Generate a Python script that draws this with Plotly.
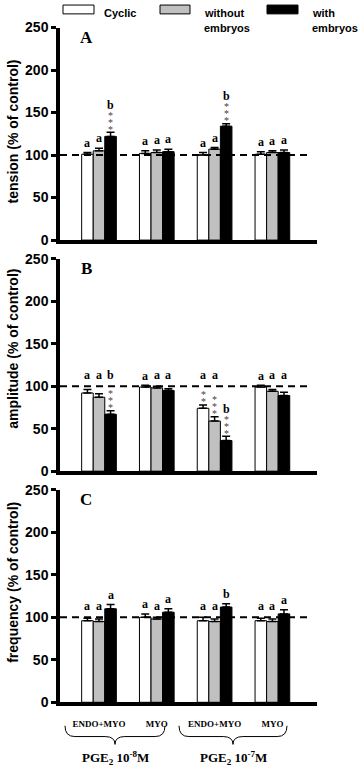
import plotly.graph_objects as go

# ---------------- data ----------------
groups = ["ENDO+MYO", "MYO", "ENDO+MYO", "MYO"]
series_names = ["Cyclic", "without embryos", "with embryos"]
dose_labels = ["PGE<sub>2</sub> 10<sup>-8</sup>M", "PGE<sub>2</sub> 10<sup>-7</sup>M"]
panel_letters = ["A", "B", "C"]
y_titles = ["tension (% of control)", "amplitude (% of control)", "frequency (% of control)"]
y_ticks = [0, 50, 100, 150, 200, 250]

tension_cyclic = [101, 102, 100, 101]
tension_without = [105, 103, 107, 103]
tension_with = [122, 104, 134, 103]
tension_err_cyclic = [2, 3, 3, 3]
tension_err_without = [3, 3, 2, 2]
tension_err_with = [5, 3, 3, 3]

amplitude_cyclic = [92, 99, 74, 99]
amplitude_without = [87, 98, 59, 94]
amplitude_with = [67, 95, 36, 89]
amplitude_err_cyclic = [4, 2, 4, 2]
amplitude_err_without = [4, 2, 5, 2]
amplitude_err_with = [4, 2, 5, 4]

frequency_cyclic = [96, 100, 96, 96]
frequency_without = [95, 98, 95, 95]
frequency_with = [110, 106, 112, 104]
frequency_err_cyclic = [3, 4, 4, 3]
frequency_err_without = [3, 2, 3, 3]
frequency_err_with = [5, 4, 4, 5]

tension_letters = [["a", "a", "a", "a"], ["a", "a", "a", "a"], ["b", "a", "b", "a"]]
tension_stars = [[0, 0, 0, 0], [0, 0, 0, 0], [3, 0, 3, 0]]
amplitude_letters = [["a", "a", "a", "a"], ["a", "a", "a", "a"], ["b", "a", "b", "a"]]
amplitude_stars = [[0, 0, 2, 0], [0, 0, 3, 0], [3, 0, 3, 0]]
frequency_letters = [["a", "a", "a", "a"], ["a", "a", "a", "a"], ["a", "a", "b", "a"]]
frequency_stars = [[0, 0, 0, 0], [0, 0, 0, 0], [0, 0, 0, 0]]
control_level = 100

# ---------------- layout helpers ----------------
W, H = 359, 771
colors = ["#ffffff", "#c0c0c0", "#000000"]
panels = [
    dict(vals=[tension_cyclic, tension_without, tension_with],
         errs=[tension_err_cyclic, tension_err_without, tension_err_with],
         letters=tension_letters, stars=tension_stars, top=20, bot=237, title_c=126),
    dict(vals=[amplitude_cyclic, amplitude_without, amplitude_with],
         errs=[amplitude_err_cyclic, amplitude_err_without, amplitude_err_with],
         letters=amplitude_letters, stars=amplitude_stars, top=256, bot=473, title_c=348),
    dict(vals=[frequency_cyclic, frequency_without, frequency_with],
         errs=[frequency_err_cyclic, frequency_err_without, frequency_err_with],
         letters=frequency_letters, stars=frequency_stars, top=492, bot=709, title_c=587),
]

xpos = list(range(len(groups)))
x_left_px, x_right_px = 60, 317
g0_px, gstep_px = 99, 57.8
xrange_ = [(x_left_px - g0_px) / gstep_px, (x_right_px - g0_px) / gstep_px]
dash_end = (312 - g0_px) / gstep_px


def px2x(px):
    return (px - g0_px) / gstep_px


def py(px):
    return 1 - px / H


fig = go.Figure()
annotations = []
shapes = []
bar_w = 0.2
offsets = [-bar_w, 0, bar_w]

for pi, p in enumerate(panels):
    sfx = "" if pi == 0 else str(pi + 1)
    xa, ya = "x" + sfx, "y" + sfx
    ppu = (p["bot"] - p["top"]) / 250.0  # px per unit
    for si in range(3):
        fig.add_trace(go.Bar(
            x=xpos, y=p["vals"][si], xaxis=xa, yaxis=ya,
            name=series_names[si], offsetgroup=str(si), showlegend=False,
            marker=dict(color=colors[si], line=dict(color="black", width=1)),
            error_y=dict(type="data", symmetric=False, array=p["errs"][si],
                         arrayminus=[0] * len(groups), color="black",
                         thickness=1.5, width=4),
        ))
        for gi in range(len(groups)):
            base = p["vals"][si][gi] + p["errs"][si][gi]
            xc = gi + offsets[si]
            n = p["stars"][si][gi]
            for k in range(n):
                annotations.append(dict(
                    x=xc, y=base, xref=xa, yref=ya, text="*", showarrow=False,
                    yshift=3 + 7 * k, yanchor="middle",
                    font=dict(family="Liberation Serif", size=10, color="#444")))
            off = (5 + 7 * (n - 1) + 9) if n > 0 else 10
            lc = base + off / ppu
            if 92 < lc < 112:
                lc = 113
            annotations.append(dict(
                x=xc, y=lc, xref=xa, yref=ya, text=p["letters"][si][gi],
                showarrow=False, yanchor="middle",
                font=dict(family="Liberation Serif", size=12, color="black", weight="bold")))
    # dashed control line
    fig.add_trace(go.Scatter(
        x=[xrange_[0], dash_end], y=[control_level, control_level], xaxis=xa, yaxis=ya,
        mode="lines", line=dict(color="black", width=2, dash="7px,5px"),
        showlegend=False, hoverinfo="skip"))
    # panel letter
    annotations.append(dict(
        x=86 / W, y=py(p["top"] + 10), xref="paper", yref="paper", text=panel_letters[pi],
        showarrow=False, xanchor="center", yanchor="middle",
        font=dict(family="Liberation Serif", size=17, color="black", weight="bold")))
    # y-axis title
    annotations.append(dict(
        x=13 / W, y=py(p["title_c"]), xref="paper", yref="paper", text=y_titles[pi],
        showarrow=False, textangle=-90, xanchor="center", yanchor="middle",
        font=dict(family="Liberation Sans", size=14, color="black", weight="bold")))
    dom = [py(p["bot"]), py(p["top"])]
    yax = dict(domain=dom, range=[0, 250], tickvals=y_ticks, showgrid=False, zeroline=False,
               showline=True, linewidth=3.5, linecolor="black", ticks="outside", ticklen=5,
               tickwidth=3, tickcolor="black", anchor=xa,
               tickfont=dict(family="Liberation Sans", size=14, color="black", weight="bold"))
    xax = dict(domain=[x_left_px / W, x_right_px / W], range=xrange_, showgrid=False,
               zeroline=False, showline=True, linewidth=3.5, linecolor="black", ticks="",
               anchor=ya, showticklabels=(pi == 2))
    if pi == 2:
        xax.update(tickvals=xpos, ticktext=["<b>%s</b>" % g for g in groups],
                   tickfont=dict(family="Liberation Serif", size=9, color="black"),
                   ticklabelstandoff=10)
    fig.layout["yaxis" + sfx] = yax
    fig.layout["xaxis" + sfx] = xax

# braces and dose labels
brace_defs = [(px2x(65), px2x(165)), (px2x(179), px2x(287))]
yt, ym, yb = py(733), py(744), py(752)
for bi, (x0, x1) in enumerate(brace_defs):
    xm = (x0 + x1) / 2
    d = 0.17
    path = (f"M {x0},{yt} Q {x0},{ym} {x0+d},{ym} L {xm-d},{ym} Q {xm},{ym} {xm},{yb} "
            f"Q {xm},{ym} {xm+d},{ym} L {x1-d},{ym} Q {x1},{ym} {x1},{yt}")
    shapes.append(dict(type="path", path=path, xref="x3", yref="paper",
                       line=dict(color="black", width=1)))
    annotations.append(dict(
        x=xm, y=py(766), xref="x3", yref="paper", text=dose_labels[bi], showarrow=False,
        yanchor="middle", font=dict(family="Liberation Serif", size=13, color="black", weight="bold")))

# legend drawn at top
leg_boxes = [(63, 94), (160, 190), (267, 298)]
leg_text_x = [102, 202, 310]
for si in range(3):
    bx0, bx1 = leg_boxes[si]
    shapes.append(dict(type="rect", xref="paper", yref="paper", x0=bx0 / W, x1=bx1 / W,
                       y0=py(6), y1=py(-3), fillcolor=colors[si],
                       line=dict(color="black", width=1)))
    words = series_names[si].split(" ")
    lines = [words[0], " ".join(words[1:])] if len(words) > 1 else words
    for li, t in enumerate(lines):
        annotations.append(dict(
            x=leg_text_x[si] / W, y=py(5 + 15 * li), xref="paper", yref="paper", text=t,
            showarrow=False, xanchor="left", yanchor="middle",
            font=dict(family="Liberation Sans", size=11, color="black", weight="bold")))

fig.update_layout(
    width=W, height=H, margin=dict(l=0, r=0, t=0, b=0),
    paper_bgcolor="white", plot_bgcolor="white",
    barmode="group", bargap=0.4, bargroupgap=0,
    annotations=annotations, shapes=shapes, showlegend=False,
)
fig.write_html("out.html", config={"displayModeBar": False},
               post_script="document.body.style.margin='0px';document.body.style.padding='0px';")
